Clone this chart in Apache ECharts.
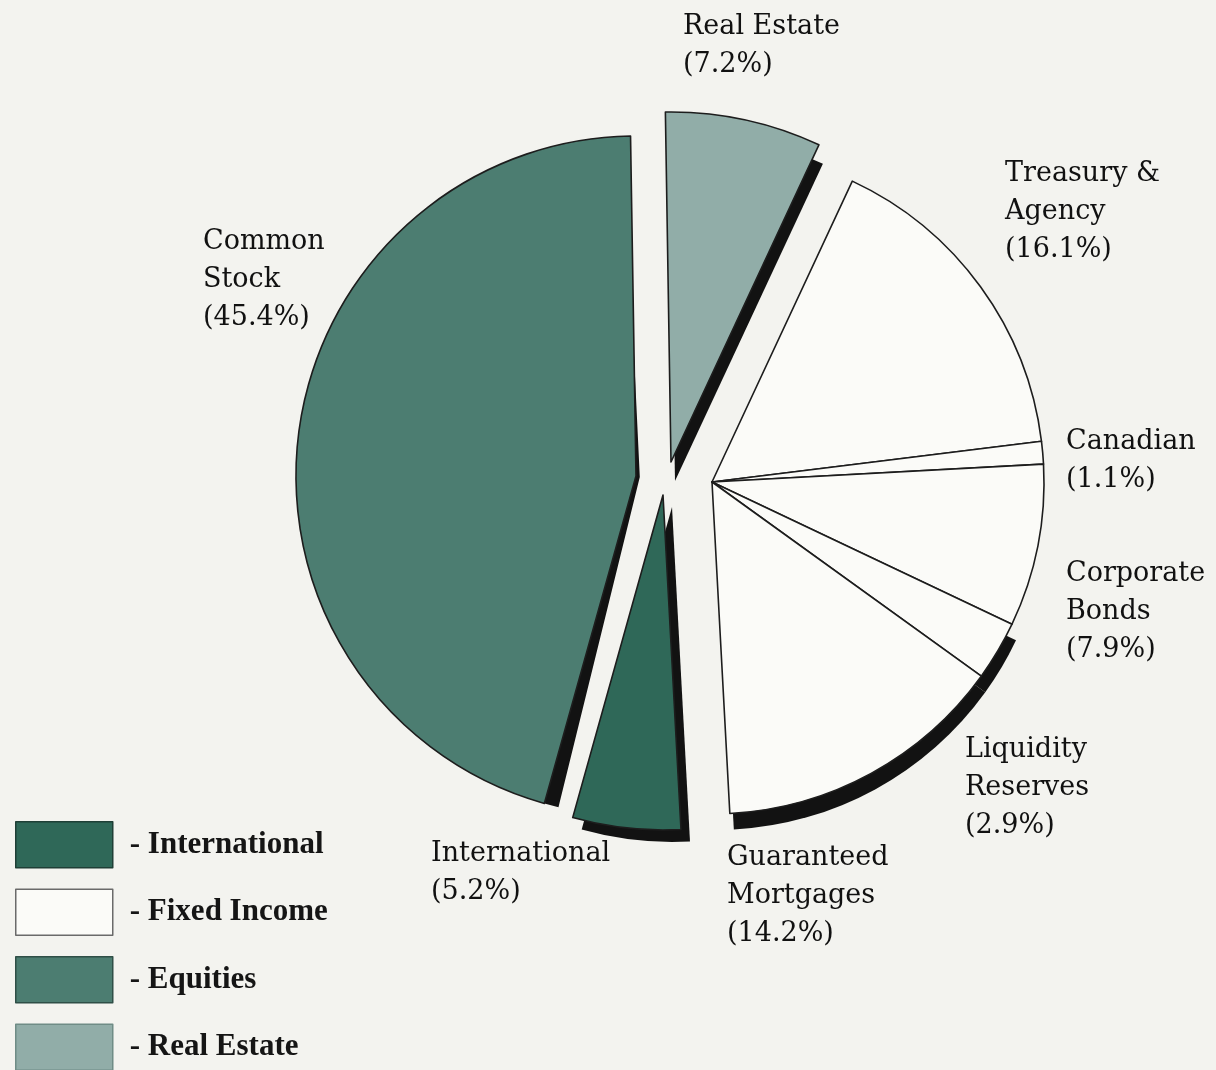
<!DOCTYPE html>
<html>
<head>
<meta charset="utf-8">
<script src="https://cdn.jsdelivr.net/npm/echarts@6/dist/echarts.min.js"></script>
<style>
  html, body { margin: 0; padding: 0; background: #f3f3ef; }
  #main { width: 1216px; height: 1070px; }
</style>
</head>
<body>
<div id="main"></div>
<script>
// slices, clockwise from Treasury & Agency
var names = ['Treasury & Agency', 'Canadian', 'Corporate Bonds', 'Liquidity Reserves', 'Guaranteed Mortgages', 'International', 'Common Stock', 'Real Estate']
var labelText = ['Treasury &\nAgency', 'Canadian', 'Corporate\nBonds', 'Liquidity\nReserves', 'Guaranteed\nMortgages', 'International', 'Common\nStock', 'Real Estate']
var values = [16.1, 1.1, 7.9, 2.9, 14.2, 5.2, 45.4, 7.2]
var groups = ['Fixed Income', 'Fixed Income', 'Fixed Income', 'Fixed Income', 'Fixed Income', 'International', 'Equities', 'Real Estate']
var legendNames = ['International', 'Fixed Income', 'Equities', 'Real Estate']
var shadowed = ['Liquidity Reserves', 'Guaranteed Mortgages', 'International', 'Common Stock', 'Real Estate']

var groupColor = {
  'International': '#2f6858',
  'Fixed Income': '#fbfbf8',
  'Equities': '#4c7d71',
  'Real Estate': '#91ada8'
}
// equity slices are pulled out, so every group gets its own centre
var groupCenter = {
  'Fixed Income': [712, 482],
  'Equities': [636, 476],
  'International': [663, 495],
  'Real Estate': [671, 462]
}
var groupRadius = { 'Fixed Income': 332, 'Equities': 340, 'International': 335, 'Real Estate': 350 }
// drop shadow: shift of the black copy and a small turn (deg) so it only peeks out on one edge
var shadowShift = { 'Fixed Income': [4, 16], 'Equities': [3.8, 1.1], 'International': [9, 12], 'Real Estate': [4, 19] }
var shadowTurn = { 'Fixed Income': 0, 'Equities': 1.8, 'International': 0, 'Real Estate': 0 }

// top-left corner of every label block
var labelPos = {
  'Treasury & Agency': [1005, 155],
  'Canadian': [1066, 423],
  'Corporate Bonds': [1066, 555],
  'Liquidity Reserves': [965, 731],
  'Guaranteed Mortgages': [727, 839],
  'International': [431, 835],
  'Common Stock': [203, 223],
  'Real Estate': [683, 8]
}

function makeSeries (group, shadow) {
  var c = groupCenter[group]
  var s = shadow ? shadowShift[group] : [0, 0]
  return {
    name: shadow ? group + ' shadow' : group,
    type: 'pie',
    silent: true,
    z: shadow ? 1 : 2,
    center: [c[0] + s[0], c[1] + s[1]],
    radius: [0, groupRadius[group]],
    startAngle: 65 + (shadow ? shadowTurn[group] : 0),
    clockwise: true,
    avoidLabelOverlap: false,
    labelLine: { show: false },
    label: {
      position: 'outside',
      fontFamily: 'DejaVu Serif',
      fontSize: 27,
      lineHeight: 38,
      color: '#111',
      formatter: function (p) {
        return labelText[p.dataIndex] + '\n(' + p.value + '%)'
      }
    },
    labelLayout: function (p) {
      var pos = labelPos[names[p.dataIndex]]
      if (!pos) return {}
      return { x: pos[0], y: pos[1], align: 'left', verticalAlign: 'top' }
    },
    data: names.map(function (n, i) {
      var on = groups[i] === group && (!shadow || shadowed.indexOf(n) >= 0)
      var style
      if (!on) style = { opacity: 0, borderWidth: 0 }
      else if (shadow) style = { color: '#121212', borderWidth: 0 }
      else style = { color: groupColor[group], borderColor: '#1d1d1d', borderWidth: 1.6 }
      return {
        name: n,
        value: values[i],
        itemStyle: style,
        label: { show: on && !shadow }
      }
    })
  }
}

var series = []
legendNames.forEach(function (g) { series.push(makeSeries(g, true)) })
legendNames.forEach(function (g) { series.push(makeSeries(g, false)) })

var legendBorder = { 'International': '#1f3f36', 'Fixed Income': '#6a6a6a', 'Equities': '#2f4f47', 'Real Estate': '#6f8c86' }

var chart = echarts.init(document.getElementById('main'))
chart.setOption({
  backgroundColor: '#f3f3ef',
  animation: false,
  legend: {
    selectedMode: false,
    orient: 'vertical',
    left: 15,
    top: 821,
    height: 320,
    padding: 0,
    itemWidth: 97,
    itemHeight: 46,
    itemGap: 20,
    icon: 'rect',
    formatter: '- {name}',
    textStyle: {
      fontFamily: 'Liberation Serif',
      fontWeight: 'bold',
      fontSize: 31,
      color: '#151515',
      padding: [0, 0, 0, 12]
    },
    data: legendNames.map(function (n) {
      return { name: n, itemStyle: { color: groupColor[n], borderColor: legendBorder[n], borderWidth: 1.5 } }
    })
  },
  series: series
})
</script>
</body>
</html>
